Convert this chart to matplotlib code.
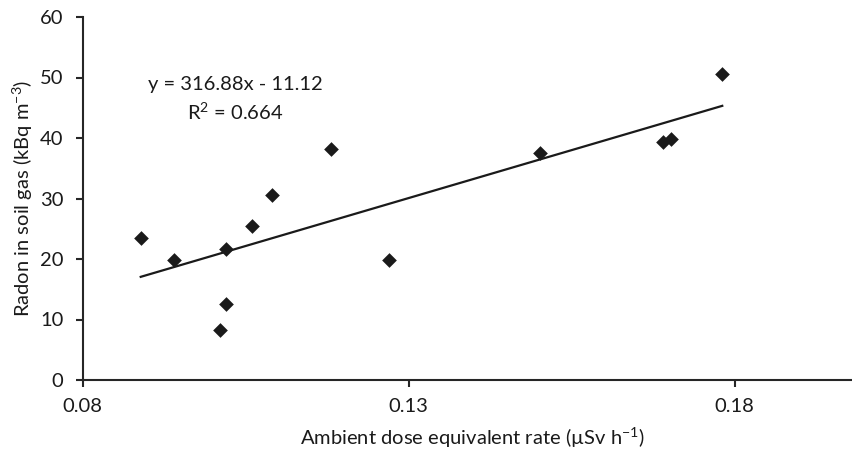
import numpy as np
import matplotlib
matplotlib.use('Agg')
import matplotlib.pyplot as plt

plt.rcParams['font.family'] = ['Lato', 'DejaVu Sans']
plt.rcParams['mathtext.fontset'] = 'custom'
plt.rcParams['mathtext.rm'] = 'Lato'
plt.rcParams['mathtext.it'] = 'Lato:italic'
plt.rcParams['mathtext.bf'] = 'Lato:bold'

# 剂量率 (µSv/h) 与土壤氡浓度 (kBq/m3)
dose_rate = [0.0889, 0.0940, 0.1020, 0.1020, 0.1011, 0.1060, 0.1090,
             0.1181, 0.1270, 0.1501, 0.1690, 0.1702, 0.1781]
radon = [23.4, 19.8, 21.6, 12.6, 8.3, 25.5, 30.6,
         38.2, 19.8, 37.6, 39.3, 39.8, 50.6]

slope = 316.88
intercept = -11.12
r2 = 0.664

x_ticks = [0.08, 0.13, 0.18]
y_ticks = [0, 10, 20, 30, 40, 50, 60]

FS = 14.5
INK = '#1a1a1a'

fig = plt.figure(figsize=(8.53, 4.55), dpi=100)
ax = fig.add_axes([82.7 / 853, 1 - 380 / 455, (852 - 82.7) / 853, (380 - 17) / 455])

ax.scatter(dose_rate, radon, marker='D', s=56, color=INK, zorder=3, linewidths=0)

# 趋势线：只画在数据范围内
xs = np.array([min(dose_rate), max(dose_rate)])
ax.plot(xs, slope * xs + intercept, color=INK, linewidth=1.6, zorder=2)

ax.text(0.1034, 48.8, f'y = {slope:.2f}x - {abs(intercept):.2f}',
        ha='center', va='center', fontsize=FS, color=INK)
ax.text(0.1034, 44.2, f'R$^2$ = {r2:.3f}',
        ha='center', va='center', fontsize=FS, color=INK)

ax.set_xlim(0.08, 0.198)
ax.set_ylim(0, 60)
ax.set_xticks(x_ticks)
ax.set_xticklabels([f'{v:.2f}' for v in x_ticks])
ax.set_yticks(y_ticks)

for side in ['top', 'right']:
    ax.spines[side].set_visible(False)
for side in ['left', 'bottom']:
    ax.spines[side].set_linewidth(1.5)
    ax.spines[side].set_color('#262626')

ax.tick_params(axis='both', direction='out', length=5, width=1.5, color='#262626',
               labelsize=FS, labelcolor=INK)
ax.tick_params(axis='x', pad=8)
ax.tick_params(axis='y', pad=9)

fig.text(472 / 853, 1 - 438 / 455, r'Ambient dose equivalent rate (µSv h$^{-1}$)',
         ha='center', va='center', fontsize=FS, color=INK)
fig.text(23 / 853, 1 - 198 / 455, r'Radon in soil gas (kBq m$^{-3}$)',
         ha='center', va='center', rotation=90, fontsize=FS, color=INK)

plt.savefig('out.png', dpi=100, facecolor='white')
